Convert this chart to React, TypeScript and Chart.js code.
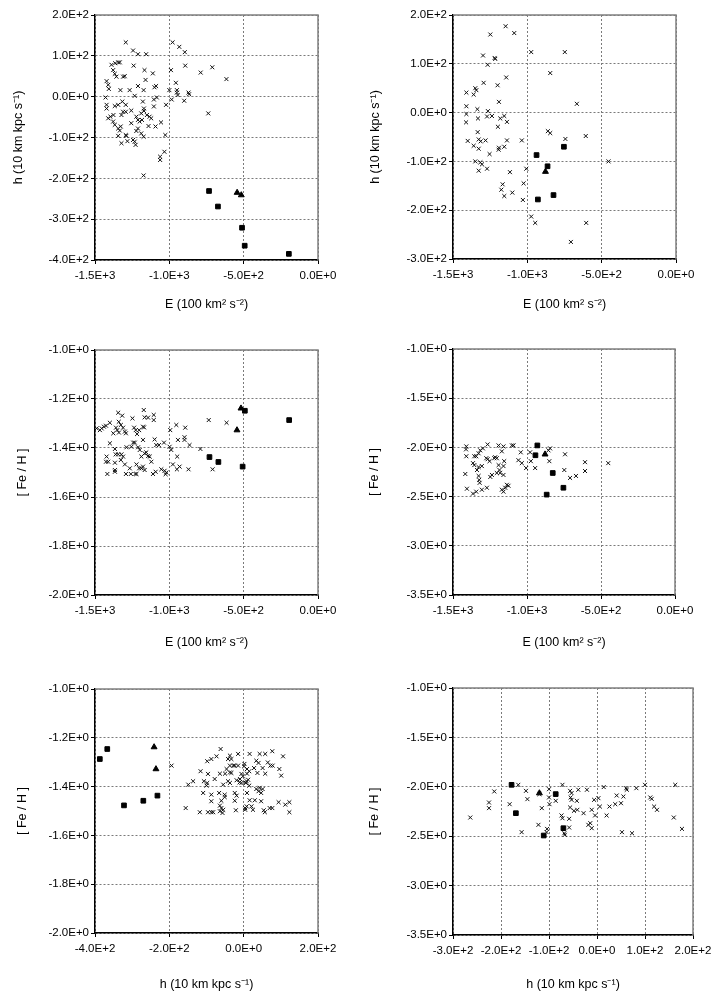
import { useEffect, useRef } from 'react';
import { Chart, registerables } from 'chart.js';

Chart.register(...registerables);

type Pt = [number, number];

// left column sample: E vs h
const leftEhCross: Pt[] = [
  [-1293, 133], [-1244, 113], [-1211, 104], [-1156, 104], [-1389, 78], [-1364, 82], [-1344, 84], [-1333, 84],
  [-1378, 65], [-1367, 56], [-1356, 49], [-1311, 49], [-1300, 50], [-1240, 76], [-1167, 65], [-1160, 41],
  [-1111, 57], [-1422, 38], [-1411, 29], [-1407, 19], [-1329, 16], [-1267, 16], [-1211, 26], [-1173, 16],
  [-1100, 23], [-1089, 26], [-1233, 2], [-1429, -2], [-1422, -20], [-1422, -29], [-1367, -23], [-1344, -20],
  [-1316, -12], [-1293, -20], [-1256, -34], [-1311, -37], [-1322, -45], [-1293, -37], [-1411, -53], [-1396, -49],
  [-1376, -45], [-1378, -61], [-1367, -69], [-1344, -78], [-1333, -83], [-1327, -73], [-1344, -96], [-1293, -94],
  [-1289, -96], [-1322, -114], [-1282, -109], [-1256, -65], [-1222, -49], [-1211, -57], [-1200, -61], [-1184, -57],
  [-1189, -41], [-1171, -29], [-1171, -35], [-1151, -45], [-1133, -49], [-1122, -53], [-1211, -78], [-1222, -84],
  [-1189, -90], [-1173, -98], [-1140, -72], [-1093, -73], [-1056, -63], [-1244, -106], [-1233, -110], [-1227, -118],
  [-1178, -12], [-1104, -7], [-1104, -24], [-1084, -2], [-1022, -20], [-1027, -94], [-1033, -135], [-1062, -147],
  [-1062, -155], [-1173, -193], [-978, 133], [-933, 122], [-896, 109], [-893, 76], [-989, 65], [-956, 34],
  [-1000, 16], [-949, 16], [-944, 4], [-949, 10], [-984, -7], [-871, 10], [-867, 6], [-900, -10],
  [-789, 59], [-711, 72], [-616, 43], [-738, -41],
];
const leftEhSquare: Pt[] = [[-733, -231], [-673, -269], [-511, -321], [-493, -365], [-196, -385]];
const leftEhTriangle: Pt[] = [[-544, -235], [-516, -241]];

// right column sample: E vs h
const rightEhCross: Pt[] = [
  [-1146, 177], [-1088, 163], [-1249, 160], [-974, 124], [-748, 124], [-1298, 117], [-1220, 112], [-1216, 110],
  [-1267, 98], [-1142, 72], [-1294, 61], [-1200, 56], [-846, 81], [-1350, 50], [-1343, 46], [-1361, 37],
  [-1410, 41], [-1410, 13], [-1191, 22], [-1336, 7], [-1265, 3], [-1271, -8], [-1238, -7], [-1410, -3],
  [-1412, -20], [-1332, -12], [-1182, -12], [-1155, -7], [-1137, -19], [-1198, -29], [-667, 18], [-1334, -40],
  [-1401, -58], [-1327, -55], [-1314, -59], [-1281, -57], [-1361, -68], [-1327, -74], [-1254, -85], [-1193, -76],
  [-1191, -72], [-1155, -70], [-1137, -57], [-1037, -57], [-862, -38], [-846, -42], [-744, -54], [-607, -48],
  [-454, -100], [-1350, -100], [-1316, -102], [-1305, -106], [-1271, -115], [-1327, -119], [-1117, -122], [-1007, -115],
  [-1166, -147], [-1175, -158], [-1155, -171], [-1101, -164], [-1025, -145], [-1030, -179], [-974, -213], [-947, -226],
  [-604, -226], [-707, -265],
];
const rightEhSquare: Pt[] = [[-938, -87], [-864, -110], [-929, -178], [-824, -169], [-754, -70]];
const rightEhTriangle: Pt[] = [[-878, -121]];

// left column sample: E vs [Fe/H]
const leftEFeCross: Pt[] = [
  [-1489, -1.32], [-1467, -1.327], [-1455, -1.32], [-1440, -1.313], [-1426, -1.309], [-1400, -1.297], [-1344, -1.256],
  [-1340, -1.293], [-1326, -1.306], [-1311, -1.317], [-1299, -1.333], [-1317, -1.268], [-1359, -1.317], [-1377, -1.34],
  [-1400, -1.381], [-1350, -1.327], [-1339, -1.337], [-1292, -1.34], [-1366, -1.404], [-1361, -1.426], [-1344, -1.426],
  [-1322, -1.426], [-1311, -1.435], [-1326, -1.449], [-1366, -1.46], [-1411, -1.456], [-1426, -1.456], [-1422, -1.435],
  [-1366, -1.49], [-1366, -1.497], [-1417, -1.506], [-1299, -1.467], [-1266, -1.483], [-1292, -1.506], [-1259, -1.506],
  [-1228, -1.506], [-1288, -1.397], [-1255, -1.395], [-1243, -1.378], [-1232, -1.378], [-1210, -1.397], [-1199, -1.408],
  [-1248, -1.279], [-1237, -1.317], [-1226, -1.327], [-1217, -1.343], [-1203, -1.327], [-1177, -1.313], [-1170, -1.316],
  [-1172, -1.245], [-1166, -1.275], [-1143, -1.276], [-1105, -1.265], [-1105, -1.286], [-1177, -1.367], [-1188, -1.435],
  [-1166, -1.422], [-1221, -1.467], [-1203, -1.483], [-1221, -1.506], [-1177, -1.476], [-1143, -1.433], [-1132, -1.435],
  [-1155, -1.418], [-1121, -1.456], [-1166, -1.49], [-1188, -1.483], [-1099, -1.365], [-1088, -1.388], [-1070, -1.388],
  [-1036, -1.378], [-1054, -1.487], [-1032, -1.493], [-1020, -1.5], [-1110, -1.506], [-1092, -1.497], [-1025, -1.507],
  [-998, -1.395], [-987, -1.408], [-994, -1.327], [-953, -1.306], [-942, -1.367], [-947, -1.435], [-976, -1.467],
  [-931, -1.476], [-949, -1.487], [-893, -1.317], [-898, -1.356], [-898, -1.367], [-864, -1.388], [-871, -1.487],
  [-791, -1.404], [-735, -1.286], [-709, -1.487], [-615, -1.297],
];
const leftEFeSquare: Pt[] = [[-730, -1.437], [-670, -1.457], [-492, -1.248], [-507, -1.476], [-194, -1.286]];
const leftEFeTriangle: Pt[] = [[-518, -1.238], [-545, -1.327]];

// right column sample: E vs [Fe/H]
const rightEFeCross: Pt[] = [
  [-1410, -1.99], [-1412, -2.02], [-1410, -2.09], [-1417, -2.27], [-1406, -2.42], [-1365, -2.47], [-1343, -2.45],
  [-1305, -2.43], [-1271, -2.41], [-1356, -2.09], [-1343, -2.09], [-1327, -2.06], [-1316, -2.03], [-1298, -2.01],
  [-1266, -1.97], [-1365, -2.16], [-1356, -2.18], [-1338, -2.23], [-1305, -2.19], [-1327, -2.2], [-1327, -2.29],
  [-1323, -2.33], [-1320, -2.36], [-1275, -2.11], [-1266, -2.12], [-1253, -2.14], [-1221, -2.11], [-1204, -2.11],
  [-1215, -2.1], [-1192, -1.98], [-1159, -1.99], [-1170, -2.04], [-1102, -1.98], [-1091, -1.98], [-1192, -2.18],
  [-1186, -2.23], [-1248, -2.3], [-1237, -2.28], [-1204, -2.26], [-1154, -2.14], [-1159, -2.19], [-1170, -2.43],
  [-1159, -2.45], [-1147, -2.41], [-1136, -2.38], [-1125, -2.39], [-1159, -2.28], [-1181, -2.26], [-1042, -2.05],
  [-1058, -2.13], [-1035, -2.16], [-1006, -2.21], [-979, -2.05], [-974, -2.14], [-945, -2.21], [-844, -2.01],
  [-855, -2.03], [-849, -2.14], [-743, -2.07], [-748, -2.23], [-709, -2.31], [-669, -2.29], [-608, -2.15],
  [-608, -2.24], [-451, -2.16],
];
const rightEFeSquare: Pt[] = [[-930, -1.98], [-943, -2.08], [-826, -2.26], [-754, -2.41], [-867, -2.48]];
const rightEFeTriangle: Pt[] = [[-878, -2.07]];

// left column sample: h vs [Fe/H]
const leftHFeCross: Pt[] = [
  [-62, -1.246], [-194, -1.314], [-98, -1.296], [-87, -1.287], [-73, -1.276], [-37, -1.273], [-42, -1.287],
  [-33, -1.287], [-15, -1.266], [16, -1.266], [43, -1.266], [58, -1.266], [77, -1.255], [106, -1.276],
  [-28, -1.314], [-37, -1.314], [-24, -1.314], [-15, -1.314], [2, -1.307], [1, -1.317], [-46, -1.328],
  [-37, -1.342], [34, -1.294], [40, -1.303], [65, -1.301], [72, -1.314], [78, -1.314], [28, -1.324],
  [9, -1.328], [51, -1.324], [15, -1.337], [58, -1.347], [96, -1.328], [101, -1.355], [-116, -1.337],
  [-96, -1.348], [-64, -1.347], [-50, -1.347], [-33, -1.344], [-6, -1.348], [9, -1.347], [37, -1.344],
  [-2, -1.358], [-149, -1.392], [-136, -1.378], [-107, -1.378], [-98, -1.385], [-100, -1.396], [-78, -1.369],
  [-55, -1.392], [-42, -1.378], [-37, -1.385], [-19, -1.374], [-10, -1.369], [-11, -1.383], [-6, -1.385],
  [4, -1.383], [8, -1.378], [12, -1.372], [6, -1.385], [15, -1.396], [34, -1.41], [43, -1.405], [40, -1.419],
  [51, -1.41], [47, -1.426], [-109, -1.426], [-87, -1.433], [-66, -1.426], [-51, -1.433], [-24, -1.426],
  [-19, -1.437], [9, -1.426], [-51, -1.443], [-87, -1.46], [-60, -1.458], [-24, -1.458], [16, -1.456],
  [30, -1.456], [47, -1.46], [94, -1.464], [112, -1.474], [123, -1.464], [-64, -1.478], [-60, -1.488],
  [-55, -1.495], [4, -1.488], [8, -1.481], [21, -1.481], [-156, -1.488], [-118, -1.505], [-96, -1.505],
  [-87, -1.505], [-82, -1.505], [-64, -1.501], [-57, -1.508], [-21, -1.497], [4, -1.495], [25, -1.495],
  [54, -1.497], [57, -1.505], [70, -1.488], [77, -1.488], [123, -1.505],
];
const leftHFeSquare: Pt[] = [[-387, -1.287], [-367, -1.246], [-322, -1.477], [-270, -1.458], [-232, -1.437]];
const leftHFeTriangle: Pt[] = [[-241, -1.238], [-236, -1.328]];

// right column sample: h vs [Fe/H]
const rightHFeCross: Pt[] = [
  [-264, -2.311], [-214, -2.047], [-225, -2.159], [-225, -2.216], [-182, -2.176], [-164, -1.98], [-157, -2.459],
  [-148, -2.041], [-145, -2.125], [-115, -2.216], [-120, -2.074], [-122, -2.385], [-104, -2.426], [-105, -2.459],
  [-100, -2.024], [-100, -2.108], [-99, -2.176], [-72, -1.98], [-86, -2.142], [-68, -2.47], [-67, -2.486],
  [-58, -2.412], [-56, -2.041], [-53, -2.064], [-55, -2.108], [-53, -2.132], [-39, -2.03], [-21, -2.03],
  [-42, -2.142], [-56, -2.209], [-48, -2.243], [-41, -2.233], [-28, -2.267], [-74, -2.29], [-72, -2.318],
  [-58, -2.324], [-18, -2.385], [-14, -2.368], [-11, -2.419], [-11, -2.233], [-4, -2.29], [-6, -2.132],
  [3, -2.115], [6, -2.2], [14, -2.003], [20, -2.29], [26, -2.2], [38, -2.176], [41, -2.088], [50, -2.166],
  [55, -2.098], [52, -2.459], [61, -2.014], [62, -2.03], [73, -2.47], [82, -2.014], [100, -1.98], [111, -2.108],
  [114, -2.122], [119, -2.2], [125, -2.233], [160, -2.311], [163, -1.98], [177, -2.426],
];
const rightHFeSquare: Pt[] = [[-178, -1.98], [-169, -2.267], [-111, -2.493], [-86, -2.074], [-70, -2.419]];
const rightHFeTriangle: Pt[] = [[-120, -2.064]];

// tick labels
const eTicks = [-1500, -1000, -500, 0];
const hLeftTicks = [-400, -300, -200, -100, 0, 100, 200];
const hRightTicks = [-300, -200, -100, 0, 100, 200];
const feLeftTicks = [-2.0, -1.8, -1.6, -1.4, -1.2, -1.0];
const feRightTicks = [-3.5, -3.0, -2.5, -2.0, -1.5, -1.0];
const hAxisLeftTicks = [-400, -200, 0, 200];
const hAxisRightTicks = [-300, -200, -100, 0, 100, 200];

const eTitle = 'E (100 km\u00B2 s\u207B\u00B2)';
const hTitle = 'h (10 km kpc s\u207B\u00B9)';
const feTitle = '[ Fe / H ]';

Chart.defaults.font.family = '"Liberation Sans", Arial, sans-serif';
Chart.defaults.color = '#000';

interface PanelSpec {
  left: number;
  top: number;
  width: number;
  height: number;
  area: { left: number; right: number; top: number; bottom: number };
  cross: Pt[];
  square: Pt[];
  triangle: Pt[];
  xTicks: number[];
  yTicks: number[];
  xTitle: string;
  yTitle: string;
  yTitlePad: number;
  xTitlePad: number;
}

const fmt = (v: number | string) => Number(v).toExponential(1).toUpperCase();

const framePlugin = {
  id: 'frame',
  beforeDatasetsDraw(chart: Chart) {
    const { ctx, chartArea: a } = chart;
    ctx.save();
    ctx.strokeStyle = '#808080';
    ctx.lineWidth = 1.5;
    ctx.beginPath();
    ctx.moveTo(a.left, a.top);
    ctx.lineTo(a.right, a.top);
    ctx.lineTo(a.right, a.bottom);
    ctx.stroke();
    ctx.restore();
  },
};

const toXY = (pts: Pt[]) => pts.map(([x, y]) => ({ x, y }));

function Panel({ spec }: { spec: PanelSpec }) {
  const canvasRef = useRef<HTMLCanvasElement>(null);

  useEffect(() => {
    const s = spec;
    const ctx = canvasRef.current!.getContext('2d')!;
    const tickFont = { size: 11.5 };
    const titleFont = { size: 12.5 };
    const grid = {
      color: '#7a7a7a',
      lineWidth: 1,
      tickColor: '#000',
      tickWidth: 1,
      tickLength: 4,
    };
    const border = { color: '#000', width: 1.5, dash: [2, 2] };

    const chart = new Chart(ctx, {
      type: 'scatter',
      data: {
        datasets: [
          {
            data: toXY(s.cross),
            pointStyle: 'crossRot',
            pointRadius: 2.8,
            pointBorderWidth: 1,
            pointBorderColor: '#111',
            pointBackgroundColor: '#111',
          },
          {
            data: toXY(s.square),
            pointStyle: 'rect',
            pointRadius: 3.3,
            pointBorderWidth: 1,
            pointBorderColor: '#000',
            pointBackgroundColor: '#000',
          },
          {
            data: toXY(s.triangle),
            pointStyle: 'triangle',
            pointRadius: 3.4,
            pointBorderWidth: 1,
            pointBorderColor: '#000',
            pointBackgroundColor: '#000',
          },
        ],
      },
      options: {
        responsive: false,
        animation: false,
        layout: {
          padding: { left: 0, top: s.area.top, right: s.width - s.area.right, bottom: 0 },
        },
        plugins: { legend: { display: false }, tooltip: { enabled: false } },
        scales: {
          x: {
            type: 'linear',
            min: s.xTicks[0],
            max: s.xTicks[s.xTicks.length - 1],
            afterBuildTicks: (sc: any) => {
              sc.ticks = s.xTicks.map((v) => ({ value: v }));
            },
            afterFit: (sc: any) => {
              sc.height = s.height - s.area.bottom;
            },
            ticks: { callback: fmt, font: tickFont, padding: 5, maxRotation: 0, minRotation: 0, autoSkip: false },
            grid,
            border,
            title: { display: true, text: s.xTitle, font: titleFont, padding: { top: 0, bottom: s.xTitlePad } },
          },
          y: {
            type: 'linear',
            min: s.yTicks[0],
            max: s.yTicks[s.yTicks.length - 1],
            afterBuildTicks: (sc: any) => {
              sc.ticks = s.yTicks.map((v) => ({ value: v }));
            },
            afterFit: (sc: any) => {
              sc.width = s.area.left;
            },
            ticks: { callback: fmt, font: tickFont, padding: 2, autoSkip: false },
            grid,
            border,
            title: { display: true, text: s.yTitle, font: titleFont, padding: { top: s.yTitlePad, bottom: 0 } },
          },
        },
      },
      plugins: [framePlugin],
    });

    return () => {
      chart.destroy();
    };
  }, [spec]);

  return (
    <div style={{ position: 'absolute', left: spec.left, top: spec.top, width: spec.width, height: spec.height }}>
      <canvas ref={canvasRef} width={spec.width} height={spec.height} style={{ display: 'block' }} />
    </div>
  );
}

const panels: PanelSpec[] = [
  {
    left: 0, top: 0, width: 360, height: 330,
    area: { left: 95, right: 318, top: 15, bottom: 260 },
    cross: leftEhCross, square: leftEhSquare, triangle: leftEhTriangle,
    xTicks: eTicks, yTicks: hLeftTicks, xTitle: eTitle, yTitle: hTitle, yTitlePad: 11.5, xTitlePad: 17.5,
  },
  {
    left: 360, top: 0, width: 360, height: 330,
    area: { left: 93, right: 316, top: 15, bottom: 259 },
    cross: rightEhCross, square: rightEhSquare, triangle: rightEhTriangle,
    xTicks: eTicks, yTicks: hRightTicks, xTitle: eTitle, yTitle: hTitle, yTitlePad: 8.5, xTitlePad: 17.5,
  },
  {
    left: 0, top: 330, width: 360, height: 330,
    area: { left: 95, right: 318, top: 20, bottom: 265 },
    cross: leftEFeCross, square: leftEFeSquare, triangle: leftEFeTriangle,
    xTicks: eTicks, yTicks: feLeftTicks, xTitle: eTitle, yTitle: feTitle, yTitlePad: 15.5, xTitlePad: 9.5,
  },
  {
    left: 360, top: 330, width: 360, height: 330,
    area: { left: 93, right: 315, top: 19, bottom: 265 },
    cross: rightEFeCross, square: rightEFeSquare, triangle: rightEFeTriangle,
    xTicks: eTicks, yTicks: feRightTicks, xTitle: eTitle, yTitle: feTitle, yTitlePad: 7.5, xTitlePad: 9.5,
  },
  {
    left: 0, top: 660, width: 360, height: 337,
    area: { left: 95, right: 318, top: 29, bottom: 273 },
    cross: leftHFeCross, square: leftHFeSquare, triangle: leftHFeTriangle,
    xTicks: hAxisLeftTicks, yTicks: feLeftTicks, xTitle: hTitle, yTitle: feTitle, yTitlePad: 15.5, xTitlePad: 4.5,
  },
  {
    left: 360, top: 660, width: 360, height: 337,
    area: { left: 93, right: 333, top: 28, bottom: 275 },
    cross: rightHFeCross, square: rightHFeSquare, triangle: rightHFeTriangle,
    xTicks: hAxisRightTicks, yTicks: feRightTicks, xTitle: hTitle, yTitle: feTitle, yTitlePad: 7.5, xTitlePad: 4.5,
  },
];

export default function App() {
  return (
    <div style={{ position: 'absolute', left: 0, top: 0, width: 720, height: 997, background: '#fff' }}>
      {panels.map((p, i) => (
        <Panel key={i} spec={p} />
      ))}
    </div>
  );
}
